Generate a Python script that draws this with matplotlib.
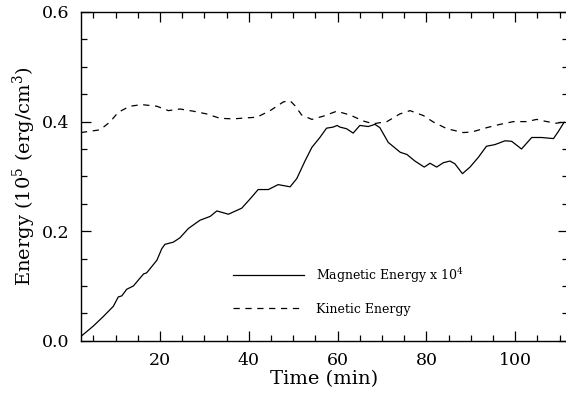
import matplotlib

matplotlib.use("Agg")
import matplotlib.pyplot as plt
from matplotlib.ticker import MultipleLocator

plt.rcParams["font.family"] = ["DejaVu Serif"]
plt.rcParams["mathtext.fontset"] = "dejavuserif"

# Kinetic energy (10^5 erg/cm^3) vs time (min)
kin_t = [2.2, 6.5, 8.7, 10.6, 13.2, 15.9, 19.3, 21.9, 24.5, 27.5,
         30.5, 33.5, 36.5, 39.9, 41.8, 44.8, 47.8, 49.3, 50.4, 51.9,
         54.2, 56.8, 59.8, 62.8, 65.8, 68.0, 71.1, 74.0, 76.3, 79.3,
         81.6, 84.6, 88.3, 90.2, 93.6, 96.6, 99.6, 102.6, 104.8, 107.1,
         109.3, 111.2]
kin_e = [0.380, 0.385, 0.399, 0.417, 0.428, 0.431, 0.428, 0.420, 0.423, 0.419,
         0.414, 0.406, 0.405, 0.407, 0.408, 0.420, 0.436, 0.438, 0.429, 0.412,
         0.404, 0.410, 0.419, 0.412, 0.401, 0.396, 0.400, 0.414, 0.420, 0.411,
         0.399, 0.387, 0.380, 0.381, 0.389, 0.395, 0.400, 0.400, 0.404, 0.400,
         0.397, 0.400]

# Magnetic energy x 10^4
mag_t = [2.2, 5.0, 7.2, 9.5, 10.6, 11.4, 12.5, 14.0, 16.3, 17.0,
         19.3, 20.4, 21.1, 23.0, 24.5, 26.4, 29.0, 31.3, 32.8, 35.4,
         38.4, 40.3, 42.1, 44.4, 46.6, 49.3, 50.8, 52.7, 54.2, 56.0,
         57.5, 59.0, 59.9, 60.5, 62.0, 63.5, 65.0, 66.9, 68.4, 69.5,
         71.4, 74.1, 75.6, 77.4, 79.5, 80.8, 82.3, 83.8, 85.3, 86.4,
         88.1, 89.8, 91.7, 93.5, 95.4, 97.7, 99.2, 101.4, 103.7, 105.9,
         108.6, 109.7, 111.0]
mag_e = [0.008, 0.027, 0.044, 0.063, 0.080, 0.082, 0.094, 0.100, 0.122, 0.124,
         0.147, 0.168, 0.176, 0.180, 0.188, 0.205, 0.220, 0.227, 0.237, 0.231,
         0.242, 0.259, 0.276, 0.276, 0.285, 0.281, 0.296, 0.329, 0.353, 0.371,
         0.388, 0.390, 0.393, 0.390, 0.387, 0.379, 0.393, 0.391, 0.395, 0.389,
         0.362, 0.344, 0.340, 0.328, 0.317, 0.324, 0.317, 0.325, 0.328, 0.323,
         0.305, 0.317, 0.335, 0.355, 0.358, 0.365, 0.364, 0.350, 0.371, 0.371,
         0.369, 0.382, 0.399]

fig = plt.figure(figsize=(5.66, 4.0), dpi=100)
# right spine sits just past the image edge, as in the original
ax = fig.add_axes([0.143, 0.148, 0.860, 0.822])

ax.plot(mag_t, mag_e, color="black", linewidth=0.9,
        label=r"Magnetic Energy x 10$^4$")
ax.plot(kin_t, kin_e, color="black", linewidth=0.9, dashes=(5, 4.5),
        label="Kinetic Energy")

ax.set_xlim(2.2, 111.8)
ax.set_ylim(0, 0.6)
ax.xaxis.set_major_locator(MultipleLocator(20))
ax.xaxis.set_minor_locator(MultipleLocator(5))
ax.yaxis.set_major_locator(MultipleLocator(0.2))
ax.yaxis.set_minor_locator(MultipleLocator(0.05))
ax.yaxis.set_major_formatter(plt.FuncFormatter(lambda v, p: f"{v:.1f}"))

ax.tick_params(which="both", direction="in", top=True, right=True,
               width=0.9, labelsize=12.5)
ax.tick_params(which="major", length=7, pad=8)
ax.tick_params(which="minor", length=4)
for s in ax.spines.values():
    s.set_linewidth(1.0)

ax.set_xlabel("Time (min)", fontsize=14, labelpad=1)
ax.set_ylabel(r"Energy (10$^5$ (erg/cm$^3$)", fontsize=14, labelpad=3)

ax.legend(loc="upper left", bbox_to_anchor=(0.312, 0.228), frameon=False,
          fontsize=9, handlelength=5.7, handletextpad=0.95,
          labelspacing=1.45, borderpad=0, borderaxespad=0)

fig.savefig("out.png", dpi=100)
